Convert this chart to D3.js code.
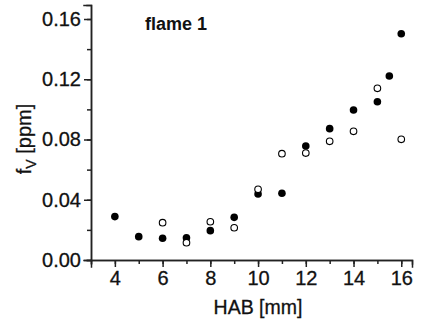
<!DOCTYPE html>
<html>
<head>
<meta charset="utf-8">
<script src="https://cdn.jsdelivr.net/npm/d3@7"></script>
<style>
  body { margin: 0; background: #fff; }
  text { font-family: Arial, "Liberation Sans", sans-serif; fill: #111; }
</style>
</head>
<body>
<div id="chart"></div>
<script>
// HAB [mm] and soot volume fraction [ppm]
let filledX = [4, 5, 6, 7, 8, 9, 10, 11, 12, 13, 14, 15, 15.5, 16];
let filledY = [0.0288, 0.0155, 0.0144, 0.0148, 0.0195, 0.0283, 0.0438, 0.0443, 0.0757, 0.0872, 0.0996, 0.1051, 0.1222, 0.1502];
let openX = [6, 7, 8, 9, 10, 11, 12, 13, 14, 15, 16];
let openY = [0.0248, 0.0115, 0.0254, 0.0214, 0.0469, 0.0706, 0.0710, 0.0788, 0.0854, 0.1140, 0.0801];
let xTicks = [4, 6, 8, 10, 12, 14, 16];
let yTicks = [0.00, 0.04, 0.08, 0.12, 0.16];

const width = 425, height = 324;
const mLeft = 91, mRight = 412, mTop = 5, mBottom = 260;

var svg = d3.select('#chart').append('svg')
            .attr('width', width)
            .attr('height', height);

var x = d3.scaleLinear().domain([3, 16.45]).range([mLeft, mRight]);
var y = d3.scaleLinear().domain([0, 0.1693]).range([mBottom, mTop]);

// minor ticks
var xAxisMinor = d3.axisBottom(x).tickValues(d3.range(3, 17, 1)).tickSize(4).tickFormat('');
var yAxisMinor = d3.axisLeft(y).tickValues(d3.range(0, 0.17, 0.02)).tickSize(4).tickFormat('');

var xAxis = d3.axisBottom(x).tickValues(xTicks).tickSize(7).tickPadding(4).tickFormat(d3.format('d'));
var yAxis = d3.axisLeft(y).tickValues(yTicks).tickSize(7).tickPadding(3).tickFormat(d3.format('.2f'));

function styleAxis(g) {
  g.selectAll('path, line').attr('stroke', '#222').attr('stroke-width', 1.5);
  g.selectAll('text').attr('font-size', '20px').attr('fill', '#111')
   .attr('font-family', 'Arial, "Liberation Sans", sans-serif')
   .attr('stroke', '#111').attr('stroke-width', 0.3);
}

svg.append('g').attr('transform', `translate(0,${mBottom})`).call(xAxisMinor).call(styleAxis);
svg.append('g').attr('transform', `translate(${mLeft},0)`).call(yAxisMinor).call(styleAxis);
svg.append('g').attr('transform', `translate(0,${mBottom})`).call(xAxis).call(styleAxis);
svg.append('g').attr('transform', `translate(${mLeft},0)`).call(yAxis).call(styleAxis);
svg.selectAll('.domain').attr('stroke-linecap', 'square');

// Add filled points
svg.append('g').selectAll('circle')
   .data(d3.zip(filledX, filledY))
   .enter()
   .append('circle')
   .attr('cx', function(d) { return x(d[0]); })
   .attr('cy', function(d) { return y(d[1]); })
   .attr('r', 3.8)
   .style('fill', '#000');

// Add open points
svg.append('g').selectAll('circle')
   .data(d3.zip(openX, openY))
   .enter()
   .append('circle')
   .attr('cx', function(d) { return x(d[0]); })
   .attr('cy', function(d) { return y(d[1]); })
   .attr('r', 3.3)
   .style('fill', '#fff')
   .style('stroke', '#000')
   .style('stroke-width', 1.1);

// Title
svg.append('text')
   .text('flame 1')
   .attr('x', 145)
   .attr('y', 30)
   .attr('font-size', '18px')
   .attr('font-weight', 'bold');

// Axis labels
svg.append('text')
   .text('HAB [mm]')
   .attr('x', 258)
   .attr('y', 314)
   .attr('font-size', '19.5px')
   .attr('stroke', '#111').attr('stroke-width', 0.3)
   .style('text-anchor', 'middle');

var yl = svg.append('text')
   .attr('transform', 'translate(31,139) rotate(-90)')
   .attr('font-size', '20px')
   .attr('stroke', '#111').attr('stroke-width', 0.3)
   .style('text-anchor', 'middle');
yl.append('tspan').text('f');
yl.append('tspan').text('V').attr('font-size', '14px').attr('dy', 5);
yl.append('tspan').text(' [ppm]').attr('dy', -5);
</script>
</body>
</html>
